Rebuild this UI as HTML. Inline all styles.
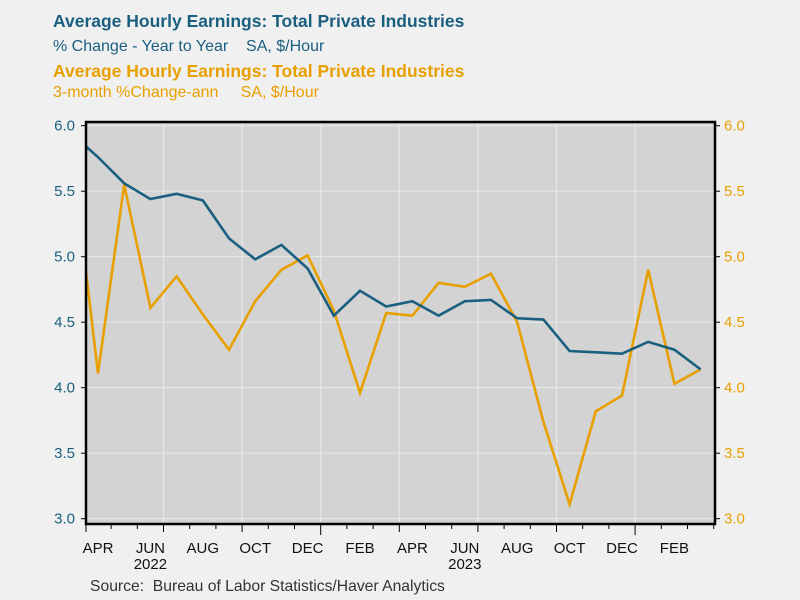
<!DOCTYPE html>
<html><head><meta charset="utf-8"><style>
body{margin:0;background:#f0f0f0;}
svg{display:block;font-family:"Liberation Sans","DejaVu Sans",sans-serif;}
text{white-space:pre;}
</style></head><body>
<svg id="chart" width="800" height="600" viewBox="0 0 800 600">
<rect width="800" height="600" fill="#f0f0f0"/>
<text x="53" y="27" font-size="17.5" font-weight="bold" fill="#1a5f80">Average Hourly Earnings: Total Private Industries</text>
<text x="53" y="51" font-size="16" fill="#1a5f80" xml:space="preserve">% Change - Year to Year    SA, $/Hour</text>
<text x="53" y="77" font-size="17.5" font-weight="bold" fill="#e8a000">Average Hourly Earnings: Total Private Industries</text>
<text x="53" y="97" font-size="16" fill="#e8a000" xml:space="preserve">3-month %Change-ann     SA, $/Hour</text>
<g id="plot"></g>
<text x="90" y="591" font-size="15.7" fill="#333" xml:space="preserve">Source:  Bureau of Labor Statistics/Haver Analytics</text>
</svg>
<script>
const months=["MAR","APR","MAY","JUN","JUL","AUG","SEP","OCT","NOV","DEC","JAN","FEB","MAR","APR","MAY","JUN","JUL","AUG","SEP","OCT","NOV","DEC","JAN","FEB","MAR"];
const yoy=[5.94,5.76,5.56,5.44,5.48,5.43,5.14,4.98,5.09,4.91,4.55,4.74,4.62,4.66,4.55,4.66,4.67,4.53,4.52,4.28,4.27,4.26,4.35,4.29,4.14];
const ann3m=[5.8,4.11,5.55,4.61,4.85,4.56,4.29,4.66,4.90,5.01,4.59,3.96,4.57,4.55,4.80,4.77,4.87,4.50,3.74,3.11,3.82,3.94,4.90,4.03,4.14];
const yTicks=[3.0,3.5,4.0,4.5,5.0,5.5,6.0];
const years=[{label:"2022",idx:3},{label:"2023",idx:15}];
const NS="http://www.w3.org/2000/svg";
const L=86,R=715,T=122,B=524;
const x=i=>98+(i-1)*26.2;
const y=v=>125.7+(6-v)*131;
const g=document.getElementById('plot');
function mk(t,a){const e=document.createElementNS(NS,t);for(const k in a)e.setAttribute(k,a[k]);g.appendChild(e);return e;}
let e=mk('rect',{x:L,y:T,width:R-L,height:B-T,fill:'#d3d3d3'});


yTicks.forEach(v=>{
 let l=mk('line',{x1:L,x2:R,y1:y(v),y2:y(v),stroke:'#e8e8e8','stroke-width':1.2});
 
 
 let t1=mk('text',{x:75,y:y(v)+5,'font-size':15,fill:'#1a5f80','text-anchor':'end'});t1.textContent=v.toFixed(1);
 
 
 let t2=mk('text',{x:724,y:y(v)+5,'font-size':15,fill:'#e8a000'});t2.textContent=v.toFixed(1);
 
 
 mk('line',{x1:L-5,x2:L,y1:y(v),y2:y(v),stroke:'#000'});
 mk('line',{x1:R,x2:R+5,y1:y(v),y2:y(v),stroke:'#000'});
});
for(let i=0;i<months.length;i++){
 const bx=x(i)+13.1;
 if(bx>L&&bx<R){
  const q=(i===3||i===6||i===9||i===12||i===15||i===18||i===21);
  if(q){let gl=mk('line',{x1:bx,x2:bx,y1:T,y2:B,stroke:'#e8e8e8','stroke-width':1.2});
   
   }
  mk('line',{x1:bx,x2:bx,y1:B,y2:B+(i===9||i===21?11:(q?8:5)),stroke:'#000'});
 }
 if(i>=1&&i%2===1){
  let t=mk('text',{x:x(i),y:553,'font-size':15,fill:'#111','text-anchor':'middle'});t.textContent=months[i];
  
  
 }
}
mk('line',{x1:L,x2:L,y1:B,y2:B+8,stroke:'#000'});
years.forEach(yy=>{let t=mk('text',{x:x(yy.idx),y:569,'font-size':15,fill:'#111','text-anchor':'middle'});t.textContent=yy.label;
 
 });
const cp=mk('clipPath',{id:'cp'});
const cr=document.createElementNS(NS,'rect');cp.appendChild(cr);
cr.setAttribute('x',L);cr.setAttribute('y',T);cr.setAttribute('width',R-L);cr.setAttribute('height',B-T);
function line(d,c,n){const p=mk('polyline',{points:d.map((v,i)=>x(i)+','+y(v)).join(' '),fill:'none',stroke:c,'stroke-width':2.6,'clip-path':'url(#cp)','stroke-linejoin':'miter'});
 
 }
line(ann3m,'#e8a000','series-3month-ann');
line(yoy,'#1a5f80','series-yoy');
let fr=mk('rect',{x:L,y:T,width:R-L,height:B-T,fill:'none',stroke:'#000','stroke-width':2.5});


</script>
</body></html>
